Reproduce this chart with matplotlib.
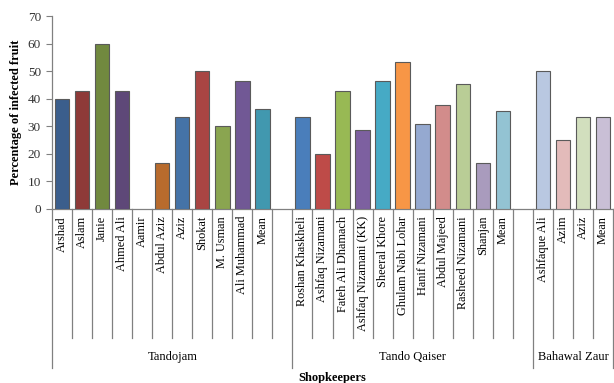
import matplotlib
matplotlib.use("Agg")
import matplotlib.pyplot as plt
import matplotlib.transforms as mtransforms

plt.rcParams['font.family'] = ['Liberation Serif', 'DejaVu Serif']

groups = ["Tandojam", "Tando Qaiser", "Bahawal Zaur"]
tandojam_names = ["Arshad", "Aslam", "Janie", "Ahmed Ali", "Aamir", "Abdul Aziz", "Aziz",
                  "Shokat", "M. Usman", "Ali Muhammad", "Mean", ""]
tandojam_vals = [40.0, 42.9, 60.0, 42.9, 0.0, 16.7, 33.3, 50.0, 30.0, 46.4, 36.4, 0.0]
qaiser_names = ["Roshan Khaskheli", "Ashfaq Nizamani", "Fateh Ali Dhamach", "Ashfaq Nizamani (KK)",
                "Sheeral Khore", "Ghulam Nabi Lohar", "Hanif Nizamani", "Abdul Majeed",
                "Rasheed Nizamani", "Shanjan", "Mean", ""]
qaiser_vals = [33.3, 20.0, 42.9, 28.6, 46.4, 53.3, 30.8, 37.8, 45.5, 16.7, 35.6, 0.0]
bahawal_names = ["Ashfaque Ali", "Azim", "Aziz", "Mean"]
bahawal_vals = [50.0, 25.0, 33.3, 33.3]

tandojam_colors = ["#3B5E8C", "#8E3A38", "#71893F", "#5E4878", "#FFFFFF", "#B86B2D", "#4573A7",
                   "#A94543", "#8AA550", "#715895", "#4198AF", "#FFFFFF"]
qaiser_colors = ["#4A7EBB", "#BE4B48", "#98B954", "#7D60A0", "#46AAC5", "#F79646", "#95A9D0",
                 "#D28C8B", "#B9CD96", "#A99BBD", "#93C3D3", "#FFFFFF"]
bahawal_colors = ["#B9C8E1", "#E3BBBA", "#D2DFBE", "#C9BFD6"]

names = tandojam_names + qaiser_names + bahawal_names
vals = tandojam_vals + qaiser_vals + bahawal_vals
colors = tandojam_colors + qaiser_colors + bahawal_colors
group_sizes = [len(tandojam_names), len(qaiser_names), len(bahawal_names)]

fig = plt.figure(figsize=(6.14, 3.83), dpi=100)
ax = fig.add_axes([52/614, 1 - 209/383, 561/614, (209 - 16.3)/383])

xs = list(range(len(names)))
for x, v, c in zip(xs, vals, colors):
    if v > 0:
        ax.bar(x, v, width=0.72, color=c, edgecolor="#5a5a5a", linewidth=0.8, zorder=3)

ax.set_xlim(-0.5, len(names) - 0.5)
ax.set_ylim(0, 70)
ax.set_yticks(range(0, 71, 10))
ax.tick_params(axis='y', labelsize=9.5, length=4, color="#808080", pad=4, labelcolor="#333333")
ax.set_xticks(xs)
ax.set_xticklabels(names, rotation=90, fontsize=8.8, va='top', ha='center')
ax.tick_params(axis='x', length=0, pad=5)
for s in ['top', 'right']:
    ax.spines[s].set_visible(False)
for s in ['left', 'bottom']:
    ax.spines[s].set_color("#808080")
    ax.spines[s].set_linewidth(0.9)

ax.set_ylabel("Percentage of infected fruit", fontsize=9, fontweight='bold', labelpad=4)

trans = mtransforms.blended_transform_factory(ax.transData, ax.transAxes)
short_y = -(338 - 209) / 192.7
long_y = -(368 - 209) / 192.7
boundaries = [0]
for g in group_sizes:
    boundaries.append(boundaries[-1] + g)
for i in range(len(names) + 1):
    y2 = long_y if i in boundaries else short_y
    ax.plot([i - 0.5, i - 0.5], [0, y2], transform=trans, color="#808080", lw=0.9, clip_on=False)

label_y = -(357 - 209) / 192.7
for gi, g in enumerate(groups):
    center = (boundaries[gi] + boundaries[gi + 1]) / 2 - 0.5
    ax.text(center, label_y, g, transform=trans, ha='center', va='center', fontsize=9)

fig.text(332/614, 1 - 378/383, "Shopkeepers", ha='center', va='center', fontsize=9, fontweight='bold')

fig.savefig("out.png", dpi=100)
